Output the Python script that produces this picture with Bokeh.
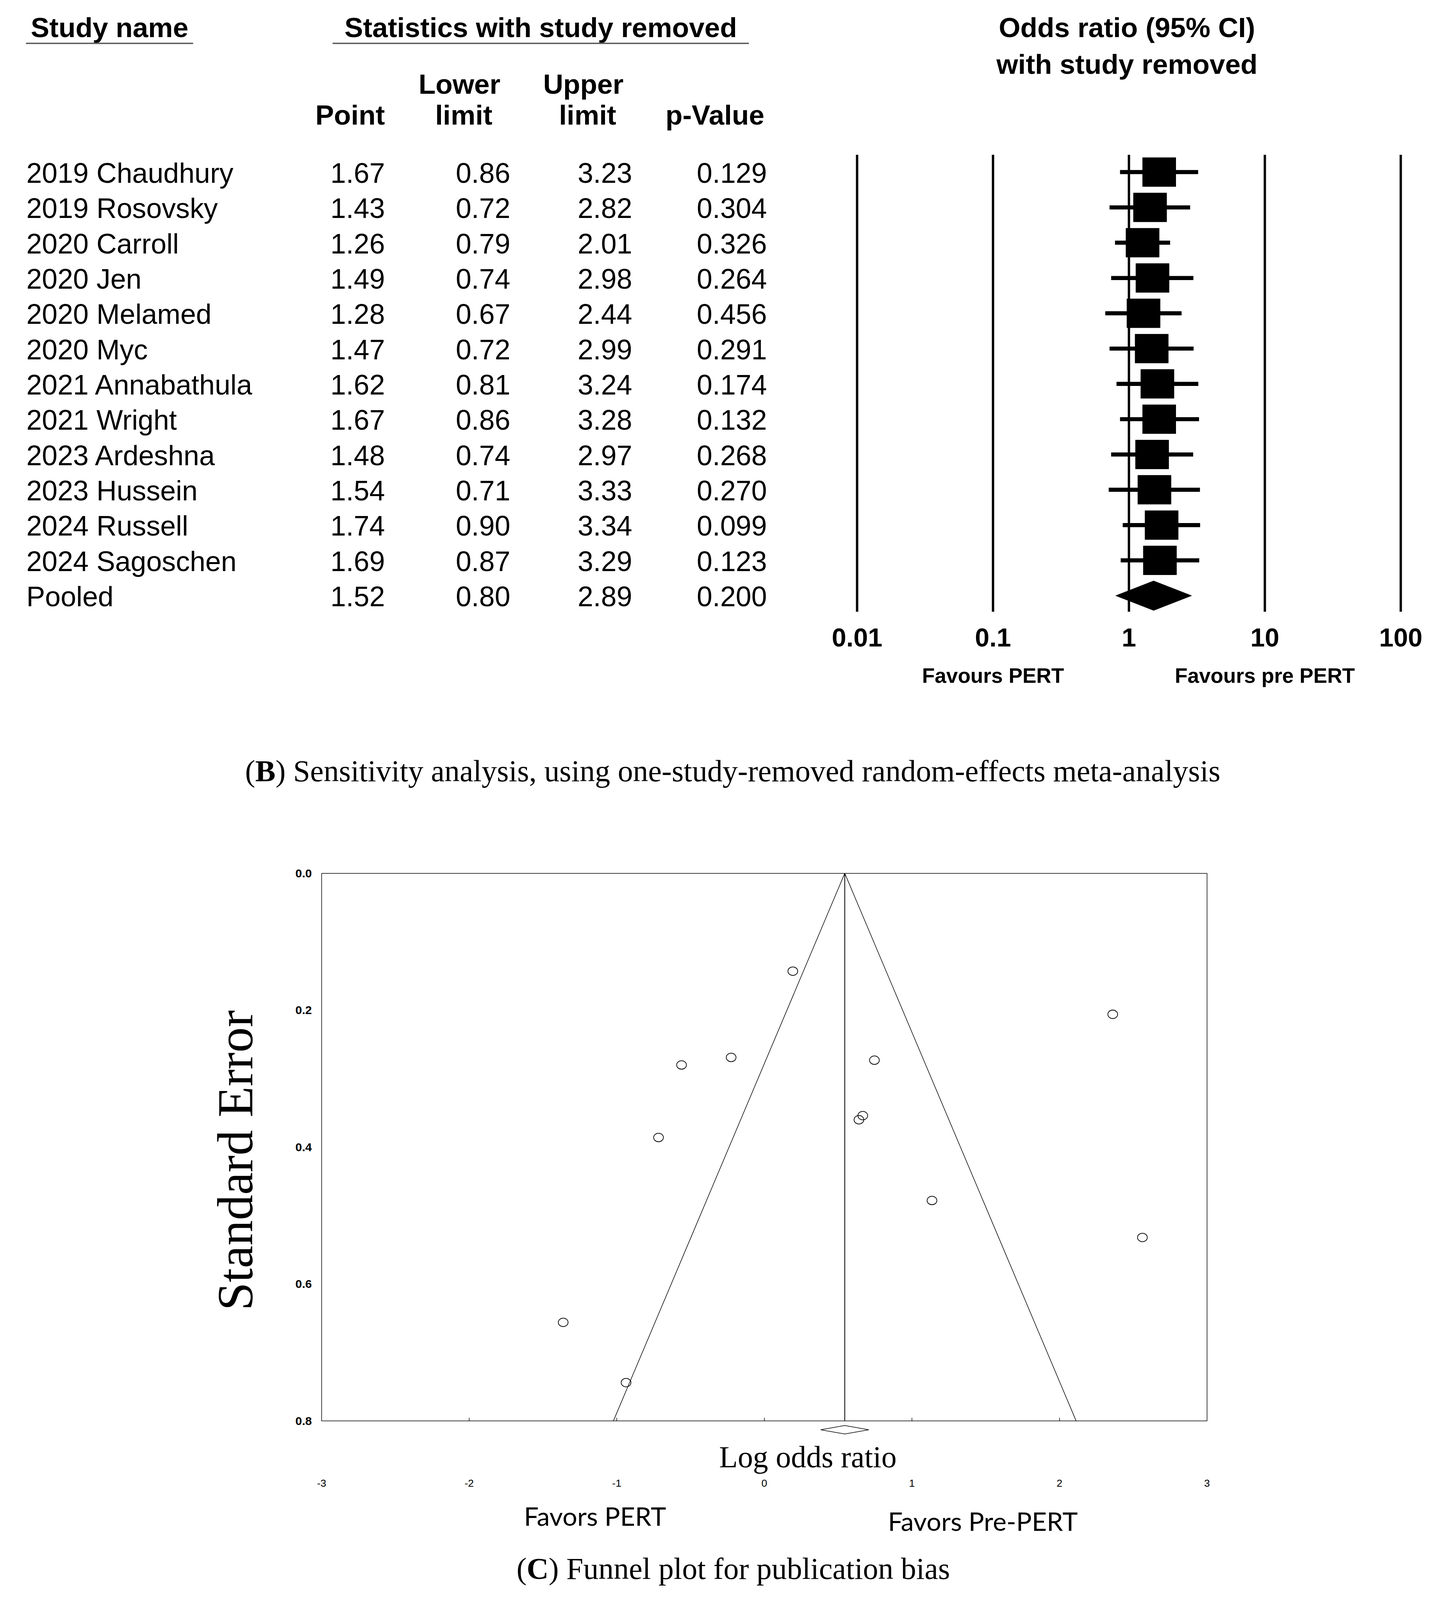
import math
from bokeh.plotting import figure
from bokeh.models import Range1d, LinearScale, LogScale
from bokeh.embed import file_html
from bokeh.resources import INLINE
from bokeh.core.properties import value

# ---------------- data: one-study-removed sensitivity analysis ----------------
studies = ["2019 Chaudhury", "2019 Rosovsky", "2020 Carroll", "2020 Jen",
           "2020 Melamed", "2020 Myc", "2021 Annabathula", "2021 Wright",
           "2023 Ardeshna", "2023 Hussein", "2024 Russell", "2024 Sagoschen",
           "Pooled"]
or_point = [1.67, 1.43, 1.26, 1.49, 1.28, 1.47, 1.62, 1.67, 1.48, 1.54, 1.74, 1.69, 1.52]
or_lower = [0.86, 0.72, 0.79, 0.74, 0.67, 0.72, 0.81, 0.86, 0.74, 0.71, 0.90, 0.87, 0.80]
or_upper = [3.23, 2.82, 2.01, 2.98, 2.44, 2.99, 3.24, 3.28, 2.97, 3.33, 3.34, 3.29, 2.89]
p_values = [0.129, 0.304, 0.326, 0.264, 0.456, 0.291, 0.174, 0.132, 0.268, 0.270, 0.099, 0.123, 0.200]

or_ticks = [0.01, 0.1, 1, 10, 100]
or_tick_labels = ["0.01", "0.1", "1", "10", "100"]

# ---------------- data: funnel plot ----------------
funnel_log_or = [0.193, 2.361, -0.561, -0.225, 0.746, 0.667, 0.641, -0.717, 1.136, 2.562, -1.363, -0.937]
funnel_se = [0.143, 0.206, 0.280, 0.269, 0.273, 0.354, 0.360, 0.386, 0.478, 0.532, 0.656, 0.744]
pooled_log_or = 0.545
pooled_ci_lo = 0.382
pooled_ci_hi = 0.708
se_ticks = [0.0, 0.2, 0.4, 0.6, 0.8]
lor_ticks = [-3, -2, -1, 0, 1, 2, 3]
lor_tick_labels = ["-3", "-2", "-1", "0", "1", "2", "3"]

# ---------------- layout ----------------
W, H = 3694, 4085
F_Y = H / 4697.0          # vertical fit factor
G = 0.95                  # font scale
SANS = "Liberation Sans"
SERIF = "Liberation Serif"
HUMAN = "Lato"


def Y(py):
    return py * F_Y


def fs(v):
    return f"{v * G:.1f}px"


p = figure(width=W, height=H, x_range=Range1d(0, W), y_range=Range1d(H, 0),
           x_axis_location=None, y_axis_location=None,
           toolbar_location=None, output_backend="svg",
           min_border=0, outline_line_color=None)
p.grid.visible = False

DEC_PX, X001 = 348.0, 2194.0
ROW0, ROW_H = Y(506.0), 103.9 * F_Y
FL, FR, FT, FBOT = 823.0, 3090.0, Y(2570.0), Y(4182.0)
px_unit = (FR - FL) / (lor_ticks[-1] - lor_ticks[0])
pps = (FBOT - FT) / (se_ticks[-1] - se_ticks[0])

p.extra_x_ranges = {
    "or": Range1d(10 ** (-2 - X001 / DEC_PX), 10 ** (-2 + (W - X001) / DEC_PX)),
    "fx": Range1d(lor_ticks[0] - FL / px_unit, lor_ticks[-1] + (W - FR) / px_unit),
}
p.extra_x_scales = {"or": LogScale(), "fx": LinearScale()}
p.extra_y_ranges = {
    "rows": Range1d((H - ROW0) / ROW_H, -ROW0 / ROW_H),
    "fy": Range1d(se_ticks[-1] + (H - FBOT) / pps, se_ticks[0] - FT / pps),
}
p.extra_y_scales = {"rows": LinearScale(), "fy": LinearScale()}


def T(x, y, s, size, font=SANS, style="normal", align="left", xr=None, yr=None, angle=0.0):
    kw = {}
    if xr:
        kw["x_range_name"] = xr
    if yr:
        kw["y_range_name"] = yr
    p.text(x=x if isinstance(x, list) else [x], y=y if isinstance(y, list) else [y],
           text=s if isinstance(s, list) else [s], angle=angle,
           text_font=value(font), text_font_size=size, text_font_style=style,
           text_align=align, text_baseline="middle", text_color="black", **kw)


# ================= Panel B: table =================
T(280, Y(80), "Study name", fs(75), style="bold", align="center")
T(1384, Y(80), "Statistics with study removed", fs(75), style="bold", align="center")
p.segment(x0=[66, 851], x1=[494, 1917], y0=[Y(127)] * 2, y1=[Y(127)] * 2,
          line_color="#5a5a5a", line_width=3.5)
T(1176, Y(247), "Lower", fs(75), style="bold", align="center")
T(1493, Y(247), "Upper", fs(75), style="bold", align="center")
T(896, Y(338), "Point", fs(75), style="bold", align="center")
T(1187, Y(338), "limit", fs(75), style="bold", align="center")
T(1504, Y(338), "limit", fs(75), style="bold", align="center")
T(1830, Y(338), "p-Value", fs(75), style="bold", align="center")
T(2885, Y(80), "Odds ratio (95% CI)", fs(75), style="bold", align="center")
T(2885, Y(189), "with study removed", fs(75), style="bold", align="center")

n = len(studies)
rows = list(range(n))
ty = [r + 0.025 for r in rows]
T([67] * n, ty, studies, fs(75.5), yr="rows")
T([985] * n, ty, [f"{v:.2f}" for v in or_point], fs(75.5), align="right", yr="rows")
T([1306] * n, ty, [f"{v:.2f}" for v in or_lower], fs(75.5), align="right", yr="rows")
T([1618] * n, ty, [f"{v:.2f}" for v in or_upper], fs(75.5), align="right", yr="rows")
T([1963] * n, ty, [f"{v:.3f}" for v in p_values], fs(75.5), align="right", yr="rows")

# ================= Panel B: forest plot =================
p.segment(x0=or_ticks, x1=or_ticks, y0=[Y(455)] * len(or_ticks), y1=[Y(1800)] * len(or_ticks),
          x_range_name="or", line_color="black", line_width=6)
m = n - 1
p.segment(x0=or_lower[:m], x1=or_upper[:m], y0=rows[:m], y1=rows[:m],
          x_range_name="or", y_range_name="rows",
          line_color="black", line_width=12 * F_Y, line_cap="butt")
p.rect(x=or_point[:m], y=rows[:m], width=85, height=85 * F_Y,
       width_units="screen", height_units="screen",
       x_range_name="or", y_range_name="rows", fill_color="black", line_color="black")
hd = 43.5 / 103.9
p.patch(x=[or_lower[m], or_point[m], or_upper[m], or_point[m]],
        y=[m, m - hd, m, m + hd], x_range_name="or", y_range_name="rows",
        fill_color="black", line_color="black")
T(or_ticks, [Y(1876.5)] * len(or_ticks), or_tick_labels, fs(70), style="bold",
  align="center", xr="or")
T(or_ticks[1], Y(1988), "Favours PERT", fs(56), style="bold", align="center", xr="or")
T(or_ticks[3], Y(1988), "Favours pre PERT", fs(56), style="bold", align="center", xr="or")

# caption B  ("B" bold)
FC = 82 * G
sx = 1876.5 - 32.08 * FC / 2
T(sx, Y(2269), "(", f"{FC:.1f}px", font=SERIF)
T(sx + 0.333 * FC, Y(2269), "B", f"{FC:.1f}px", font=SERIF, style="bold")
T(sx + 1.0 * FC, Y(2269), ") Sensitivity analysis, using one-study-removed random-effects meta-analysis",
  f"{FC:.1f}px", font=SERIF)

# ================= Panel C: funnel plot =================
se_min, se_max = se_ticks[0], se_ticks[-1]
p.quad(left=[lor_ticks[0]], right=[lor_ticks[-1]], top=[se_min], bottom=[se_max],
       x_range_name="fx", y_range_name="fy",
       fill_color=None, line_color="black", line_width=1.5)
inner = lor_ticks[1:-1]
p.segment(x0=inner, x1=inner, y0=[se_max] * len(inner),
          y1=[se_max - 9 * F_Y / pps] * len(inner),
          x_range_name="fx", y_range_name="fy", line_color="black", line_width=1.5)
T([798] * len(se_ticks), se_ticks, [f"{v:.1f}" for v in se_ticks], fs(32), style="bold",
  align="right", yr="fy")
T(601, Y(3415), "Standard Error", "130px", font=SERIF, align="center", angle=math.pi / 2)

p.line(x=[pooled_log_or - 1.96 * se_max, pooled_log_or, pooled_log_or + 1.96 * se_max],
       y=[se_max, se_min, se_max], x_range_name="fx", y_range_name="fy",
       line_color="black", line_width=1.5)
p.segment(x0=[pooled_log_or], x1=[pooled_log_or], y0=[se_min], y1=[se_max],
          x_range_name="fx", y_range_name="fy", line_color="black", line_width=2)
p.ellipse(x=funnel_log_or, y=funnel_se, width=25, height=25 * F_Y,
          width_units="screen", height_units="screen",
          x_range_name="fx", y_range_name="fy",
          fill_color=None, line_color="black", line_width=1.8)

# pooled diamond below the axis
dh = 12.5 * F_Y
p.patch(x=[pooled_ci_lo, pooled_log_or, pooled_ci_hi, pooled_log_or],
        y=[Y(4208), Y(4208) - dh, Y(4208), Y(4208) + dh], x_range_name="fx",
        fill_color="white", line_color="black", line_width=1.5)
T(2068, Y(4288), "Log odds ratio", fs(82), font=SERIF, align="center")
T(lor_ticks, [Y(4365)] * len(lor_ticks), lor_tick_labels, fs(28), align="center", xr="fx")
T(1523, Y(4461), "Favors PERT", fs(70), font=HUMAN, align="center")
T(2516, Y(4476), "Favors Pre-PERT", fs(70), font=HUMAN, align="center")

sx = 1877 - 14.25 * FC / 2
T(sx, Y(4617), "(", f"{FC:.1f}px", font=SERIF)
T(sx + 0.333 * FC, Y(4617), "C", f"{FC:.1f}px", font=SERIF, style="bold")
T(sx + (0.333 + 0.722) * FC, Y(4617), ") Funnel plot for publication bias", f"{FC:.1f}px", font=SERIF)

open("out.html", "w").write(file_html(p, INLINE))
